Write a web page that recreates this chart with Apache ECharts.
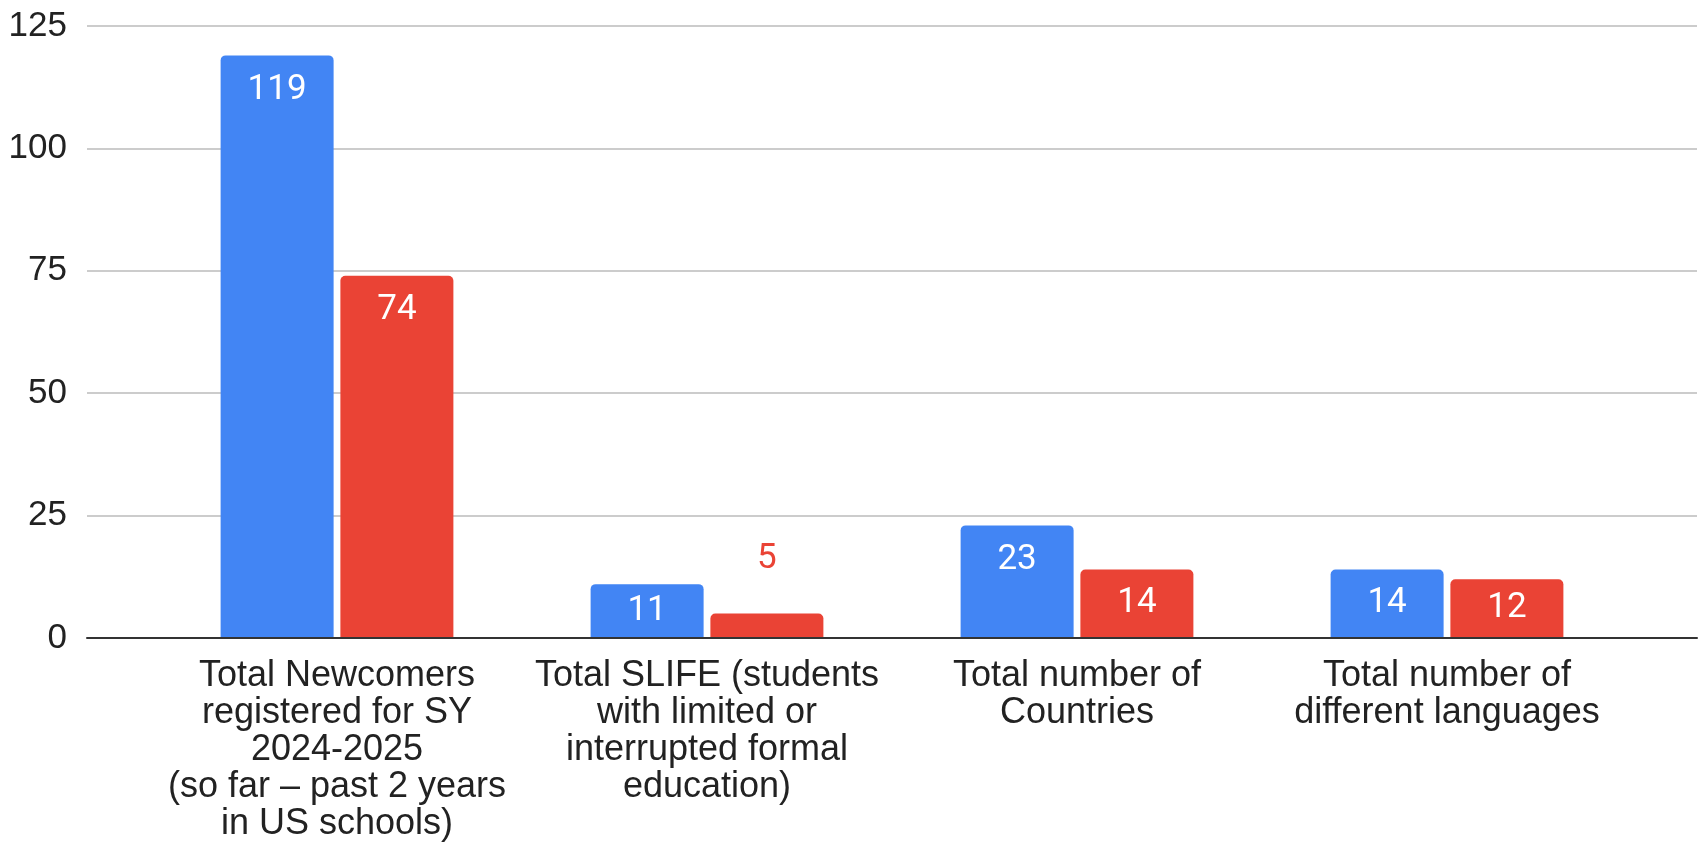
<!DOCTYPE html>
<html>
<head>
<meta charset="utf-8">
<script src="https://cdn.jsdelivr.net/npm/echarts@6/dist/echarts.min.js"></script>
<style>html,body{margin:0;padding:0;background:#fff}#c{width:1704px;height:848px}</style>
</head>
<body>
<div id="c"></div>
<script>
const categories = [
  "Total Newcomers\nregistered for SY\n2024-2025\n(so far \u2013 past 2 years\nin US schools)",
  "Total SLIFE (students\nwith limited or\ninterrupted formal\neducation)",
  "Total number of\nCountries",
  "Total number of\ndifferent languages"
];
const blueValues = [119, 11, 23, 14];
const redValues = [74, 5, 14, 12];
const yTicks = [0, 25, 50, 75, 100, 125];

const BLUE = '#4285f4', RED = '#ea4335';

function items(vals, color) {
  return vals.map(v => {
    let label;
    if (v < 8) {
      label = { position: 'top', distance: 34, color: color };
    } else if (v < 15) {
      label = { position: 'inside', color: '#fff' };
    } else {
      label = { position: 'insideTop', distance: 15, color: '#fff' };
    }
    return { value: v, label: label };
  });
}

const chart = echarts.init(document.getElementById('c'), null, { renderer: 'canvas' });
const labelBase = { show: true, fontFamily: 'Roboto', fontSize: 35, lineHeight: 40 };
chart.setOption({
  animation: false,
  grid: [
    { left: 87, right: 7, top: 26, bottom: 210, containLabel: false },
    { left: 152, right: 72, top: 26, bottom: 210, containLabel: false }
  ],
  xAxis: [
    { gridIndex: 0, type: 'category', data: [''], axisLabel: { show: false }, axisTick: { show: false },
      axisLine: { show: true, lineStyle: { color: '#333', width: 2 } }, z: 10 },
    { gridIndex: 1, type: 'category', data: categories, axisTick: { show: false },
      axisLine: { show: false },
      axisLabel: { interval: 0, margin: 20, fontFamily: 'Liberation Sans, Arial', fontSize: 36, lineHeight: 37, color: '#222', align: 'center' } }
  ],
  yAxis: [
    { gridIndex: 0, type: 'value', min: yTicks[0], max: yTicks[yTicks.length - 1], interval: 25,
      axisLine: { show: false }, axisTick: { show: false },
      axisLabel: { margin: 20, fontFamily: 'Liberation Sans, Arial', fontSize: 35, color: '#222' },
      splitLine: { show: true, lineStyle: { color: '#cccccc', width: 2 } } },
    { gridIndex: 1, type: 'value', min: yTicks[0], max: yTicks[yTicks.length - 1], interval: 25,
      show: false, splitLine: { show: false } }
  ],
  series: [
    { type: 'bar', xAxisIndex: 1, yAxisIndex: 1, data: items(blueValues, BLUE), barWidth: 113, barGap: '6%',
      itemStyle: { color: BLUE, borderRadius: [5, 5, 0, 0] }, label: labelBase },
    { type: 'bar', xAxisIndex: 1, yAxisIndex: 1, data: items(redValues, RED), barWidth: 113, barGap: '6%',
      itemStyle: { color: RED, borderRadius: [5, 5, 0, 0] }, label: labelBase }
  ]
});
</script>
</body>
</html>
